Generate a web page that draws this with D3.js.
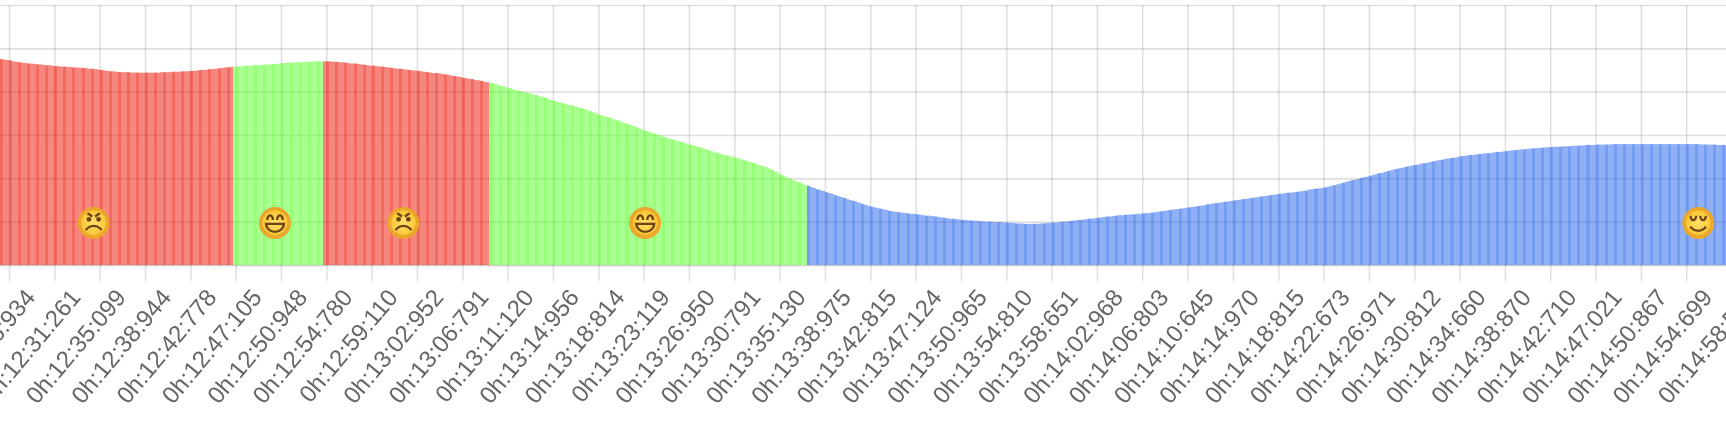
<!DOCTYPE html>
<html>
<head>
<meta charset="utf-8">
<script src="https://cdn.jsdelivr.net/npm/d3@7"></script>
<style>
    html, body { margin: 0; padding: 0; background: #fff; overflow: hidden; }
    svg { display: block; filter: blur(0.45px); }
    .tick-label { font-family: "Liberation Sans", sans-serif; font-size: 24px; fill: #666; }
</style>
</head>
<body>
<div id="chart"></div>
<script>
// bar heights, one list per mood run, left to right
var angryValuesA = [475,474,473,472,470,469,468,467,466,
    465,465,464,463,463,462,461,461,460,459,
    459,458,458,457,457,456,456,455,455,454,453,453,452,451,450,
    449,448,447,447,446,445,445,445,445,444,444,444,444,444,444,
    444,444,444,444,445,445,445,445,
    446,446,446,447,447,447,448,
    448,449,450,450,451,452,452,453,
    454,455,456,456,457];
var happyValuesA = [458,458,459,459,460,460,461,461,461,462,
    462,463,463,464,464,465,466,466,467,467,
    467,468,468,469,469,469,470,470,470,470];
var angryValuesB = [470,470,470,469,469,468,468,467,
    466,465,465,464,463,462,461,460,460,
    459,458,458,457,456,455,454,453,453,
    452,451,450,449,449,448,
    447,446,445,444,443,443,442,441,
    440,439,437,436,435,434,432,
    431,430,429,427,426,425,423,422];
var happyValuesB = [420,418,416,414,412,
    410,408,406,404,402,401,399,397,396,394,
    392,390,388,386,384,381,379,
    377,375,373,371,369,368,366,364,362,
    360,357,355,352,350,347,
    345,343,341,339,336,334,332,
    329,326,323,321,318,315,313,310,
    308,306,303,301,299,296,294,
    292,290,288,286,284,282,280,278,
    276,274,272,270,268,265,263,
    261,259,257,255,253,252,250,248,
    246,244,242,240,238,236,234,231,229,
    226,223,219,216,212,208,
    205,202,199,196,193,191,188,185];
var calmValues = [183,180,178,175,173,171,168,
    166,164,161,159,157,155,152,150,
    148,146,144,141,139,137,135,
    133,132,130,129,127,125,
    124,123,122,121,120,119,118,118,117,
    116,115,114,114,113,112,111,110,
    109,108,107,107,106,105,104,
    104,103,103,102,102,101,101,100,
    100,100,99,99,99,
    98,98,97,97,96,96,
    96,95,95,95,95,
    95,96,96,97,97,98,
    98,99,100,100,101,102,
    103,104,104,105,106,107,107,108,109,
    110,111,112,112,113,114,115,
    115,116,116,117,117,118,118,119,
    120,120,121,122,123,124,125,
    126,127,128,129,130,131,132,133,
    134,135,136,137,138,140,141,
    142,143,144,145,146,147,148,149,
    150,151,152,153,154,155,156,
    157,158,159,160,161,162,163,164,
    165,166,167,167,168,169,170,
    171,172,174,175,176,177,178,179,
    181,183,184,186,188,190,192,
    194,196,197,199,201,203,204,206,
    208,210,212,213,215,217,219,
    221,222,224,225,227,228,230,231,
    232,234,235,236,238,239,241,
    242,243,245,246,247,248,250,251,
    252,253,254,254,255,256,257,
    258,258,259,260,261,261,262,263,
    264,265,265,266,267,267,268,
    269,269,270,270,271,271,272,272,
    273,273,273,274,274,274,275,275,
    275,276,276,277,277,277,278,
    278,278,278,278,279,279,279,279,279,279,
    279,279,279,279,279,279,279,279,279,279,279,279,279,279,279,279,279,279,279,279,
    279,279,279,279,278,278,278,278,
    278,277,277,277,276,276,276];

var moods = ["angry", "happy", "angry", "happy", "calm"];
var runs = [angryValuesA, happyValuesA, angryValuesB, happyValuesB, calmValues];
var emojiText = ["😠", "😄", "😠", "😄", "😌"];
var emojiBar = [31, 91, 133.5, 213.5, 562];
var emojiLevel = 97;

var tickLabels = ["0h:12:26:934", "0h:12:31:261", "0h:12:35:099", "0h:12:38:944", "0h:12:42:778",
    "0h:12:47:105", "0h:12:50:948", "0h:12:54:780", "0h:12:59:110", "0h:13:02:952",
    "0h:13:06:791", "0h:13:11:120", "0h:13:14:956", "0h:13:18:814", "0h:13:23:119",
    "0h:13:26:950", "0h:13:30:791", "0h:13:35:130", "0h:13:38:975", "0h:13:42:815",
    "0h:13:47:124", "0h:13:50:965", "0h:13:54:810", "0h:13:58:651", "0h:14:02:968",
    "0h:14:06:803", "0h:14:10:645", "0h:14:14:970", "0h:14:18:815", "0h:14:22:673",
    "0h:14:26:971", "0h:14:30:812", "0h:14:34:660", "0h:14:38:870", "0h:14:42:710",
    "0h:14:47:021", "0h:14:50:867", "0h:14:54:699", "0h:14:58:540"];
var yTicks = [0, 100, 200, 300, 400, 500, 600];

var moodColor = { angry: "rgb(236,15,0)", happy: "rgb(85,255,35)", calm: "rgb(31,97,235)" };

var width = 1726, height = 446;
var firstTickBar = 3, barsPerTick = 15;

var bars = [];
var emojis = [];
runs.forEach(function (run, r) {
    run.forEach(function (v) {
        bars.push({ index: bars.length, value: v, mood: moods[r] });
    });
    emojis.push({ index: emojiBar[r], text: emojiText[r] });
});

var svg = d3.select("#chart").append("svg").attr("width", width).attr("height", height);

var defs = svg.append("defs");
var faceFill = defs.append("radialGradient").attr("id", "faceFill");
faceFill.append("stop").attr("offset", "0%").attr("stop-color", "#ffe06a");
faceFill.append("stop").attr("offset", "70%").attr("stop-color", "#fdc93a");
faceFill.append("stop").attr("offset", "100%").attr("stop-color", "#e9a227");
// features dark, the ring of the glyph fades into the rim
var glyphFill = defs.append("radialGradient").attr("id", "glyphFill")
    .attr("gradientUnits", "userSpaceOnUse")
    .attr("cx", 0).attr("cy", 0).attr("r", 17);
glyphFill.append("stop").attr("offset", "0%").attr("stop-color", "#6a4317");
glyphFill.append("stop").attr("offset", "64%").attr("stop-color", "#6a4317");
glyphFill.append("stop").attr("offset", "72%").attr("stop-color", "#eaa62b");
glyphFill.append("stop").attr("offset", "100%").attr("stop-color", "#eaa62b");

var x = d3.scaleLinear().domain([0, bars.length]).range([-0.07, -0.07 + 3.022 * bars.length]);
var y = d3.scaleLinear().domain([0, 600]).range([265, 5]);
var tickBars = tickLabels.map(function (d, i) { return firstTickBar + i * barsPerTick; });

// grid first, the bars are see through
var gridX = svg.append("g").attr("transform", "translate(0,5)")
    .call(d3.axisBottom(x).tickValues(tickBars).tickSize(260).tickFormat(""));
var gridY = svg.append("g")
    .call(d3.axisLeft(y).tickValues(yTicks).tickSize(-width).tickFormat(""));
[gridX, gridY].forEach(function (g) {
    g.select(".domain").remove();
    g.selectAll("line").attr("stroke", "#000").attr("stroke-opacity", 0.12).attr("stroke-width", 1.6);
});
gridY.selectAll(".tick").filter(function (d) { return d === 0; }).select("line")
    .attr("stroke-opacity", 0.2);

// whole pixel sides, only the tops stay soft
svg.append("g").selectAll("rect")
    .data(bars)
    .enter().append("rect")
    .attr("x", function (d) { return Math.round(x(d.index)); })
    .attr("width", function (d) { return Math.round(x(d.index + 1)) - Math.round(x(d.index)); })
    .attr("y", function (d) { return y(d.value); })
    .attr("height", function (d) { return y(0) - y(d.value); })
    .attr("fill", function (d) { return moodColor[d.mood]; })
    .attr("fill-opacity", function (d) { return d.index % 3 === 0 ? 0.62 : 0.5; });

var axisG = svg.append("g").attr("transform", "translate(0,265)")
    .call(d3.axisBottom(x).tickValues(tickBars).tickSize(16).tickFormat(function (d, i) { return tickLabels[i]; }));
axisG.select(".domain").remove();
axisG.selectAll("line").attr("stroke", "#000").attr("stroke-opacity", 0.12).attr("stroke-width", 1.6);
axisG.selectAll("text")
    .attr("class", "tick-label")
    .attr("text-anchor", "end")
    .attr("x", 0).attr("y", 0).attr("dy", 0)
    .attr("transform", "translate(27,33) rotate(-50)");

var emojiG = svg.append("g").selectAll("g")
    .data(emojis)
    .enter().append("g")
    .attr("transform", function (d) { return "translate(" + x(d.index) + "," + y(emojiLevel) + ")"; });
emojiG.append("circle").attr("r", 16).attr("fill", "url(#faceFill)");
emojiG.append("text")
    .attr("text-anchor", "middle")
    .attr("dy", "0.36em")
    .attr("font-family", "DejaVu Sans")
    .attr("font-size", 34)
    .attr("fill", "url(#glyphFill)")
    .text(function (d) { return d.text; });
</script>
</body>
</html>
